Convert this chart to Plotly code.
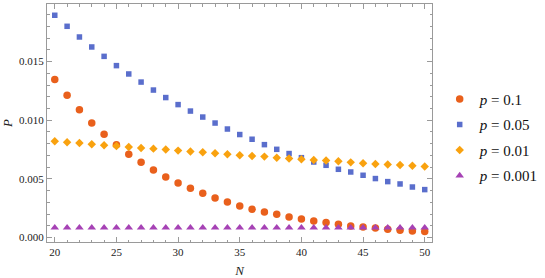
import plotly.graph_objects as go

N = list(range(20, 51))

p_01 = [0.01346, 0.01212, 0.01090, 0.00976, 0.00880, 0.00792, 0.00710, 0.00641,
        0.00576, 0.00516, 0.00465, 0.00420, 0.00377, 0.00337, 0.00303, 0.00269,
        0.00241, 0.00218, 0.00198, 0.00176, 0.00158, 0.00141, 0.00128, 0.00113,
        0.00099, 0.00090, 0.00082, 0.00071, 0.00062, 0.00056, 0.00051]
p_005 = [0.01894, 0.01800, 0.01709, 0.01624, 0.01544, 0.01465, 0.01394, 0.01325,
         0.01257, 0.01193, 0.01133, 0.01078, 0.01027, 0.00976, 0.00925, 0.00878,
         0.00838, 0.00792, 0.00752, 0.00716, 0.00681, 0.00644, 0.00616, 0.00582,
         0.00559, 0.00531, 0.00503, 0.00477, 0.00457, 0.00431, 0.00409]
p_001 = [0.00820, 0.00812, 0.00806, 0.00795, 0.00786, 0.00780, 0.00772, 0.00763,
         0.00758, 0.00750, 0.00741, 0.00733, 0.00727, 0.00718, 0.00710, 0.00701,
         0.00695, 0.00690, 0.00681, 0.00673, 0.00667, 0.00661, 0.00656, 0.00650,
         0.00641, 0.00633, 0.00627, 0.00622, 0.00618, 0.00613, 0.00605]
p_0001 = [0.00085] * 31

series = [
    ("<i>p</i> = 0.1", p_01, "circle", 7.5, "#E9601C"),
    ("<i>p</i> = 0.05", p_005, "square", 5.5, "#5A6ECC"),
    ("<i>p</i> = 0.01", p_001, "diamond", 6.5, "#F9A20F"),
    ("<i>p</i> = 0.001", p_0001, "triangle-up", 7.5, "#A642B5"),
]

serif = "'Liberation Serif', 'DejaVu Serif', serif"

fig = go.Figure()
for i, (name, ys, sym, sz, col) in enumerate(series):
    fig.add_trace(go.Scatter(
        x=N, y=ys, mode="markers", name=name, legendgroup=str(i),
        marker=dict(symbol=sym, size=sz, color=col, line=dict(width=0)),
    ))

frame = "#9a9a9a"
tickfont = dict(family=serif, size=11, color="#222222")

fig.update_layout(
    width=545, height=278,
    margin=dict(l=47, r=113, t=4, b=36, autoexpand=False),
    paper_bgcolor="white", plot_bgcolor="white",
    font=dict(family=serif),
    showlegend=True,
    legend=dict(x=1.02, xanchor="left", y=0.44, yanchor="middle",
                font=dict(family=serif, size=15, color="#111111"),
                traceorder="grouped", tracegroupgap=3, itemwidth=30,
                bgcolor="rgba(0,0,0,0)"),
)
fig.update_xaxes(
    range=[19.37, 50.59], showgrid=False, zeroline=False, automargin=False,
    showline=True, linecolor=frame, linewidth=1, mirror="ticks",
    ticks="inside", ticklen=5, tickcolor=frame, dtick=5, tick0=20,
    tickfont=tickfont,
    minor=dict(ticks="inside", ticklen=2.5, tickcolor=frame, dtick=1, tick0=20, showgrid=False),
    title=dict(text="<i>N</i>", font=dict(family=serif, size=13, color="#222222"), standoff=9),
)
fig.update_yaxes(
    range=[-0.000374, 0.0199], showgrid=False, zeroline=False, automargin=False,
    showline=True, linecolor=frame, linewidth=1, mirror="ticks",
    ticks="inside", ticklen=5, tickcolor=frame, dtick=0.005, tick0=0,
    tickformat=".3f", tickfont=tickfont,
    minor=dict(ticks="inside", ticklen=2.5, tickcolor=frame, dtick=0.001, tick0=0, showgrid=False),
    title=dict(text="<i>P</i>", font=dict(family=serif, size=13, color="#222222"), standoff=5),
)

fig.write_html("out.html", config={"displayModeBar": False},
               post_script="document.body.style.margin='0';")
